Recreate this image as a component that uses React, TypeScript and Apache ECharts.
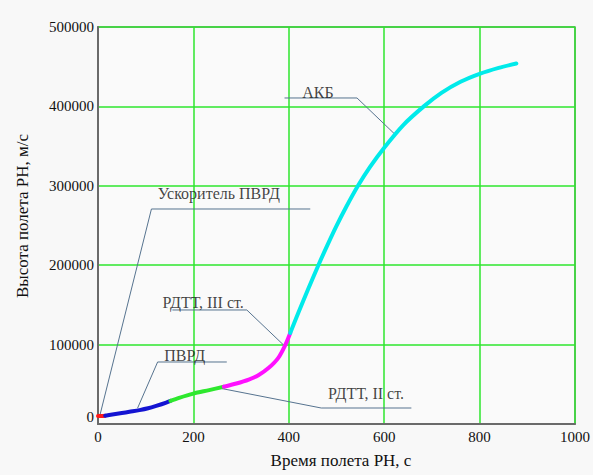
import React, { useEffect, useRef } from "react";
import * as echarts from "echarts";

const xTicks = [0, 200, 400, 600, 800, 1000];
const yTicks = [0, 100000, 200000, 300000, 400000, 500000];

const segRed: number[][] = [[0, 10000], [8, 10000], [15, 10500]];
const segBlue: number[][] = [
  [15, 10500], [30, 12000], [50, 13800], [66, 15400], [87, 17500],
  [105, 19800], [122, 22800], [143, 27000], [152, 29200],
];
const segGreen: number[][] = [
  [152, 29200], [170, 33000], [200, 38300], [233, 42700], [264, 47000],
];
const segMagenta: number[][] = [
  [264, 47000], [290, 51000], [316, 56000], [337, 61700], [358, 70700],
  [378, 83300], [393, 100000], [403, 114700],
];
const segCyan: number[][] = [
  [403, 114700], [420, 140000], [440, 169000], [462, 200000], [480, 224000],
  [500, 249500], [520, 273000], [545, 300000], [570, 323500], [600, 348000],
  [640, 376500], [683, 400000], [720, 417000], [760, 431000], [800, 441000],
  [840, 448500], [877, 454000],
];

const leaderBooster: number[][] = [[445, 270800], [112, 270800], [4, 11000]];
const leaderRamjet: number[][] = [[270, 78100], [125, 78100], [83, 20000]];
const leaderStage3: number[][] = [[156, 143600], [312, 143600], [389, 99500]];
const leaderStage2: number[][] = [[657, 20150], [468, 20150], [254, 45300]];
const leaderAkb: number[][] = [[391, 410600], [543, 410600], [624, 364000]];

const labelTexts = ["Ускоритель ПВРД", "ПВРД", "РДТТ, III ст.", "РДТТ, II ст.", "АКБ"];
const labelAnchors: number[][] = [
  [125, 289700], [139, 86900], [135, 152400], [482, 39000], [428, 418100],
];

const xTitle = "Время полета РН, с";
const yTitle = "Высота полета РН, м/с";

const FONT = "'Liberation Serif', 'DejaVu Serif', serif";

export default function App() {
  const ref = useRef<HTMLDivElement>(null);
  useEffect(() => {
    if (!ref.current) return;
    const chart = echarts.init(ref.current, undefined, { renderer: "svg" });
    const curve = (data: number[][], color: string) => ({
      type: "line",
      data,
      showSymbol: false,
      symbol: "none",
      smooth: 0.3,
      lineStyle: { color, width: 4, cap: "round", join: "round" },
      silent: true,
      z: 5,
    });
    const leader = (data: number[][]) => ({
      type: "line",
      data,
      symbol: "none",
      lineStyle: { color: "#56738f", width: 1 },
      silent: true,
      z: 4,
    });
    chart.setOption({
      animation: false,
      backgroundColor: "#f8f8f8",
      grid: {
        left: 98, right: 14, top: 27, bottom: 51,
        show: true, borderColor: "#7a7a7a", borderWidth: 1.5,
        backgroundColor: "#fafafa",
      },
      xAxis: {
        type: "value",
        min: xTicks[0],
        max: xTicks[xTicks.length - 1],
        interval: 200,
        axisLine: { show: true, onZero: false, lineStyle: { color: "#6a6a6a", width: 2 } },
        axisTick: { show: false },
        splitLine: { show: true, lineStyle: { color: "#2ee62e", width: 1.5 } },
        axisLabel: {
          color: "#111", fontFamily: FONT, fontSize: 15, margin: 5,
          formatter: (v: number) => String(v),
        },
      },
      yAxis: {
        type: "value",
        min: yTicks[0],
        max: yTicks[yTicks.length - 1],
        interval: 100000,
        axisLine: { show: true, onZero: false, lineStyle: { color: "#6a6a6a", width: 2 } },
        axisTick: { show: false },
        splitLine: { show: true, lineStyle: { color: "#2ee62e", width: 1.5 } },
        axisLabel: {
          color: "#111", fontFamily: FONT, fontSize: 15, margin: 4,
          formatter: (v: number) => (v === 0 ? "{z|0}" : String(v)),
          rich: { z: { color: "#111", fontFamily: FONT, fontSize: 15, padding: [0, 0, 15, 0] } },
        },
      },
      series: [
        curve(segRed, "#ff1a1a"),
        curve(segBlue, "#1414d2"),
        curve(segGreen, "#2ee82e"),
        curve(segMagenta, "#ff10ff"),
        curve(segCyan, "#00eaea"),
        leader(leaderBooster),
        leader(leaderRamjet),
        leader(leaderStage3),
        leader(leaderStage2),
        leader(leaderAkb),
        {
          type: "scatter",
          symbolSize: 0,
          silent: true,
          z: 6,
          data: labelAnchors.map((p, i) => ({ value: p, name: labelTexts[i] })),
          label: {
            show: true,
            position: "right",
            distance: 0,
            formatter: (p: any) => p.name,
            color: "#111",
            fontFamily: FONT,
            fontSize: 16,
          },
        },
      ],
      graphic: [
        {
          type: "text",
          x: 341, y: 460,
          style: {
            text: xTitle, fill: "#111", font: `17px ${FONT}`,
            align: "center", verticalAlign: "middle",
          },
        },
        {
          type: "text",
          x: 22, y: 216,
          rotation: Math.PI / 2,
          style: {
            text: yTitle, fill: "#111", font: `17px ${FONT}`,
            align: "center", verticalAlign: "middle",
          },
        },
      ],
    });
    return () => chart.dispose();
  }, []);
  return (
    <div
      ref={ref}
      style={{ position: "fixed", left: 0, top: 0, width: 593, height: 475 }}
    />
  );
}
